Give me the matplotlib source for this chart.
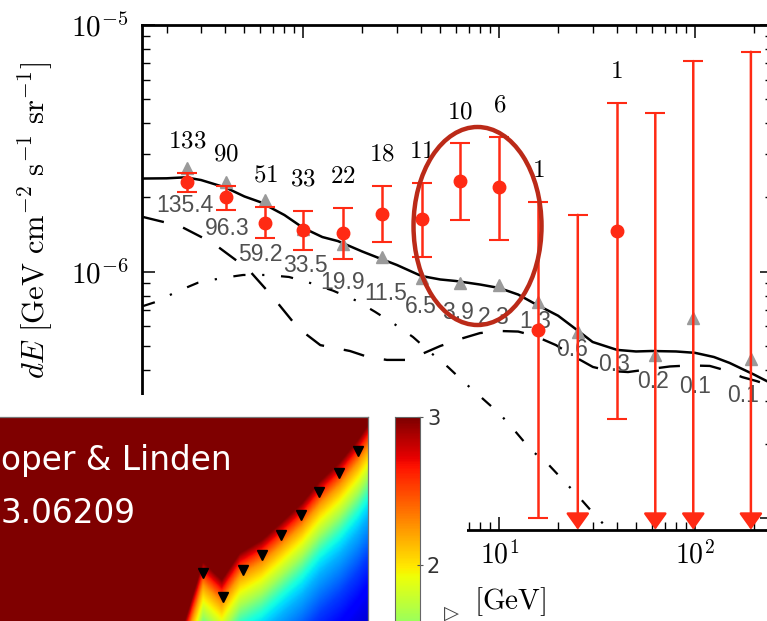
import numpy as np
import matplotlib
matplotlib.use("Agg")
import matplotlib.pyplot as plt
from matplotlib.patches import Ellipse
from matplotlib.ticker import NullFormatter

plt.rcParams['mathtext.fontset'] = 'cm'
plt.rcParams['font.family'] = ['DejaVu Sans']

# ------------------------------------------------------------------ data
energy = [0.254, 0.403, 0.637, 1.0, 1.59, 2.53, 4.02, 6.34, 10.0, 15.8, 25.2, 39.8, 62.7, 98.0, 193.0]

obs_idx = [0, 1, 2, 3, 4, 5, 6, 7, 8, 9, 11]
obs_flux = [2.30e-6, 2.00e-6, 1.58e-6, 1.48e-6, 1.43e-6, 1.72e-6, 1.63e-6, 2.33e-6, 2.21e-6, 5.80e-7, 1.46e-6]
obs_hi = [2.52e-6, 2.23e-6, 1.83e-6, 1.77e-6, 1.81e-6, 2.23e-6, 2.28e-6, 3.32e-6, 3.53e-6, 1.92e-6, 4.82e-6]
obs_lo = [2.11e-6, 1.78e-6, 1.37e-6, 1.23e-6, 1.13e-6, 1.32e-6, 1.15e-6, 1.62e-6, 1.34e-6, 1.00e-7, 2.54e-7]
obs_counts = ['133', '90', '51', '33', '22', '18', '11', '10', '6', '1', '1']

ul_idx = [10, 12, 13, 14]
ul_flux = [1.70e-6, 4.39e-6, 7.14e-6, 7.79e-6]

model_flux = [2.63e-6, 2.30e-6, 1.95e-6, 1.49e-6, 1.29e-6, 1.15e-6, 9.40e-7, 8.97e-7,
              8.83e-7, 7.55e-7, 5.71e-7, 4.72e-7, 4.60e-7, 6.47e-7, 4.41e-7]
model_counts = ['135.4', '96.3', '59.2', '33.5', '19.9', '11.5', '6.5', '3.9', '2.3',
                '1.3', '0.6', '0.3', '0.2', '0.1', '0.1']
model_hidden = [11]

total_E = [0.15, 0.2, 0.25, 0.3, 0.4, 0.5, 0.6, 0.8, 1, 1.25, 1.5, 2, 2.5, 3, 4, 5, 6, 8, 10,
           12.5, 15, 20, 25, 30, 40, 50, 60, 80, 100, 125, 150, 200, 250]
total_F = [2.386, 2.391, 2.413, 2.353, 2.194, 2.018, 1.917, 1.697, 1.503, 1.382, 1.331, 1.207,
           1.126, 1.065, 0.961, 0.930, 0.917, 0.887, 0.859, 0.808, 0.746, 0.663, 0.580, 0.519,
           0.482, 0.475, 0.477, 0.475, 0.469, 0.451, 0.427, 0.383, 0.350]

dash_E = [0.152, 0.175, 0.234, 0.345, 0.521, 0.691, 0.939, 1.22, 1.73, 2.14, 2.67, 3.38, 4.03,
          4.99, 6.31, 7.98, 10.1, 12.5, 15.2, 19.5, 24.4, 30.1, 36.8, 45.5, 58.9, 74.5, 94.3,
          119, 142, 174, 207, 247]
dash_F = [1.666, 1.621, 1.532, 1.307, 1.025, 0.797, 0.591, 0.504, 0.477, 0.451, 0.439, 0.439,
          0.464, 0.4995, 0.5335, 0.564, 0.575, 0.572, 0.549, 0.504, 0.451, 0.411, 0.396, 0.392,
          0.403, 0.413, 0.417, 0.415, 0.399, 0.374, 0.360, 0.344]

dd_E = [0.152, 0.177, 0.226, 0.289, 0.384, 0.492, 0.652, 0.844, 1.106, 1.416, 1.858, 2.321,
        2.937, 3.628, 4.432, 5.475, 6.687, 8.168, 10.09, 12.04, 14.54, 17.75, 21.42, 25.56,
        30.49, 36.8, 43.9]
dd_F = [0.726, 0.755, 0.831, 0.902, 0.943, 0.970, 0.970, 0.952, 0.896, 0.838, 0.764, 0.688,
        0.611, 0.5437, 0.4724, 0.4108, 0.3538, 0.3076, 0.2649, 0.2261, 0.1894, 0.1661, 0.1417,
        0.1221, 0.1042, 0.0889, 0.0766]

ellipse_center = (7.75, 1.532e-6)

# inset map (own normalised units)
heat_bx = [0.503, 0.552, 0.603, 0.652, 0.712, 0.766, 0.821, 0.870, 0.924, 0.973, 1.0]
heat_by = [0.0, 0.289, 0.201, 0.333, 0.397, 0.485, 0.578, 0.686, 0.779, 0.887, 0.961]
heat_depth = [0, 0.064, 0.113, 0.186, 0.26, 0.358, 0.456, 0.652, 0.848, 1.0]
heat_value = [3.0, 2.55, 2.25, 1.95, 1.65, 1.15, 0.9, 0.55, 0.3, 0.2]
heat_mx = [0.552, 0.607, 0.660, 0.711, 0.764, 0.818, 0.868, 0.921, 0.974]
heat_my = [0.237, 0.119, 0.250, 0.324, 0.420, 0.518, 0.632, 0.725, 0.833]

# ------------------------------------------------------------------ layout
W, H = 767, 621
RED = '#ff2a14'
model_label_off = [(-2, 37), (1.5, 46), (-5, 54), (2, 37), (0, 38), (3, 37), (-1, 28), (-2, 29),
                   (-5, 32), (-3, 20), (-6, 18), (-3, 12), (-2, 27), (2, 68), (-8, 36)]
PX = 72.0 / 100.0

fig = plt.figure(figsize=(W / 100, H / 100), dpi=100)
ax = fig.add_axes([142.1 / W, 91.3 / H, 630.8 / W, 504.7 / H])
ax.set_xscale('log')
ax.set_yscale('log')
ax.set_xlim(0.15, 250)
ax.set_ylim(9e-8, 1e-5)

# model curves
ax.plot(total_E, np.array(total_F) * 1e-6, color='black', lw=1.8, zorder=3)
ax.plot(dash_E, np.array(dash_F) * 1e-6, color='black', lw=1.7, ls=(0, (9, 8.5)), zorder=3)
ax.plot(dd_E, np.array(dd_F) * 1e-6, color='black', lw=1.6, ls=(0, (5.5, 7.5, 1, 7.5)), zorder=3)

# model prediction triangles and labels
for i, (e, f) in enumerate(zip(energy, model_flux)):
    if i not in model_hidden:
        ax.plot([e], [f], marker='^', ms=8.5, color='#9a9a9a', mec='#9a9a9a', zorder=4, ls='none')
    dx, dy = model_label_off[i]
    ax.annotate(model_counts[i], xy=(e, f), xytext=(dx * PX, -dy * PX), textcoords='offset points',
                ha='center', va='center', fontsize=16.5, color='#505050',
                family=['Liberation Sans', 'DejaVu Sans'], zorder=4)

# observed points
ox = [energy[i] for i in obs_idx]
of = np.array(obs_flux)
yerr = [of - np.array(obs_lo), np.array(obs_hi) - of]
ax.errorbar(ox, of, yerr=yerr, fmt='o', color=RED, mec=RED, ms=9, capsize=7,
            elinewidth=1.8, capthick=1.5, zorder=6)
for e, top, c in zip(ox, obs_hi, obs_counts):
    ax.annotate('$%s$' % c, xy=(e, top), xytext=(0, 25 * PX), textcoords='offset points',
                ha='center', va='baseline', fontsize=18, color='black', zorder=7)

# upper limits
ymin = ax.get_ylim()[0]
for i, u in zip(ul_idx, ul_flux):
    e = energy[i]
    ax.annotate('', xy=(e, ymin), xytext=(e, u),
                arrowprops=dict(arrowstyle='-|>,head_length=0.7,head_width=0.5',
                                mutation_scale=14.4, color=RED, lw=1.8,
                                shrinkA=0, shrinkB=0), zorder=6)
    ax.plot([e], [u], marker='_', ms=14, mew=1.5, color=RED, zorder=6)

# highlight ellipse
cx, cy = ax.transAxes.inverted().transform(ax.transData.transform(ellipse_center))
ax.add_patch(Ellipse((cx, cy), 128 / 630.8, 198 / 504.7, transform=ax.transAxes,
                     fill=False, ec='#bb2a18', lw=3.2, zorder=8))

# axes styling
ax.set_xticks([1, 10, 100])
ax.set_xticklabels(['', '$10^{1}$', '$10^{2}$'])
ax.set_yticks([1e-7, 1e-6, 1e-5])
ax.set_yticklabels(['', '$10^{-6}$', '$10^{-5}$'])
ax.xaxis.set_minor_formatter(NullFormatter())
ax.yaxis.set_minor_formatter(NullFormatter())
ax.set_xlim(0.15, 250)
ax.set_ylim(9e-8, 1e-5)
ax.tick_params(which='both', direction='in', top=True, right=True, color='black')
ax.tick_params(which='major', length=9.4, width=1.1)
ax.tick_params(which='minor', length=5.6, width=1.0)
ax.tick_params(axis='y', which='major', labelsize=21, pad=10)
ax.tick_params(axis='x', which='major', labelsize=20, pad=8)
for s in ax.spines.values():
    s.set_linewidth(2.0)

fig.text(36 / W, 1 - 62 / H, r'$dE\ [\mathrm{GeV\ cm^{-2}\ s^{-1}\ sr^{-1}}]$', rotation=90,
         ha='center', va='top', fontsize=22, zorder=1)

# ------------------------------------------------------------------ overlaid inset
panel = fig.add_axes([0, 0, 467 / W, 226 / H], zorder=2)
panel.set_facecolor('white')
panel.set_xticks([])
panel.set_yticks([])
for s in panel.spines.values():
    s.set_visible(False)

hx = np.linspace(0, 1, 420)
hy = np.linspace(0, 1, 260)
yb = np.interp(hx, heat_bx, heat_by, left=-1.0)
depth = yb[None, :] - hy[:, None]
field = np.where(depth <= 0, 3.0, np.interp(depth, heat_depth, heat_value))

hax = fig.add_axes([0, 0, 368 / W, 204 / H], zorder=3)
hax.imshow(field, origin='lower', extent=(0, 1, 0, 1), aspect='auto', cmap='jet',
           vmin=0, vmax=3, interpolation='bilinear')
hax.plot(heat_mx, heat_my, ls='none', marker='v', ms=7.5, color='black')
hax.set_xlim(0, 1)
hax.set_ylim(0, 1)
hax.set_xticks([])
hax.set_yticks([])
hax.spines['left'].set_visible(False)
hax.spines['bottom'].set_visible(False)
for k in ('top', 'right'):
    hax.spines[k].set_color('#777777')
    hax.spines[k].set_linewidth(0.9)
hax.text(1 / 368, (621 - 470) / 204, 'oper & Linden', color='white', fontsize=23.6,
         ha='left', va='baseline', family='DejaVu Sans')
hax.text(1 / 368, (621 - 523) / 204, '3.06209', color='white', fontsize=23.6,
         ha='left', va='baseline', family='DejaVu Sans')

cax = fig.add_axes([395 / W, 0, 25 / W, 204 / H], zorder=3)
cb_lo = 3 - 204 / 148.0
grad = np.linspace(cb_lo, 3, 200)[:, None]
cax.imshow(grad, origin='lower', extent=(0, 1, cb_lo, 3), aspect='auto', cmap='jet',
           vmin=0, vmax=3)
cax.set_xlim(0, 1)
cax.set_ylim(cb_lo, 3)
cax.set_xticks([])
cax.yaxis.tick_right()
cax.set_yticks([2, 3])
cax.set_yticklabels(['2', '3'])
cax.tick_params(axis='y', direction='inout', length=4, width=0.8, pad=3, labelsize=15,
                labelcolor='#333333', color='#555555')
for s in cax.spines.values():
    s.set_color('#666666')
    s.set_linewidth(0.8)
cax.spines['bottom'].set_visible(False)

fig.text(510 / W, (H - 602) / H, r'$\mathrm{[GeV]}$', ha='center', va='center', fontsize=21,
         zorder=5)
fig.text(451 / W, (H - 613) / H, '▷', ha='center', va='center', fontsize=14,
         color='#444444', zorder=5)

fig.savefig('out.png', dpi=100)
